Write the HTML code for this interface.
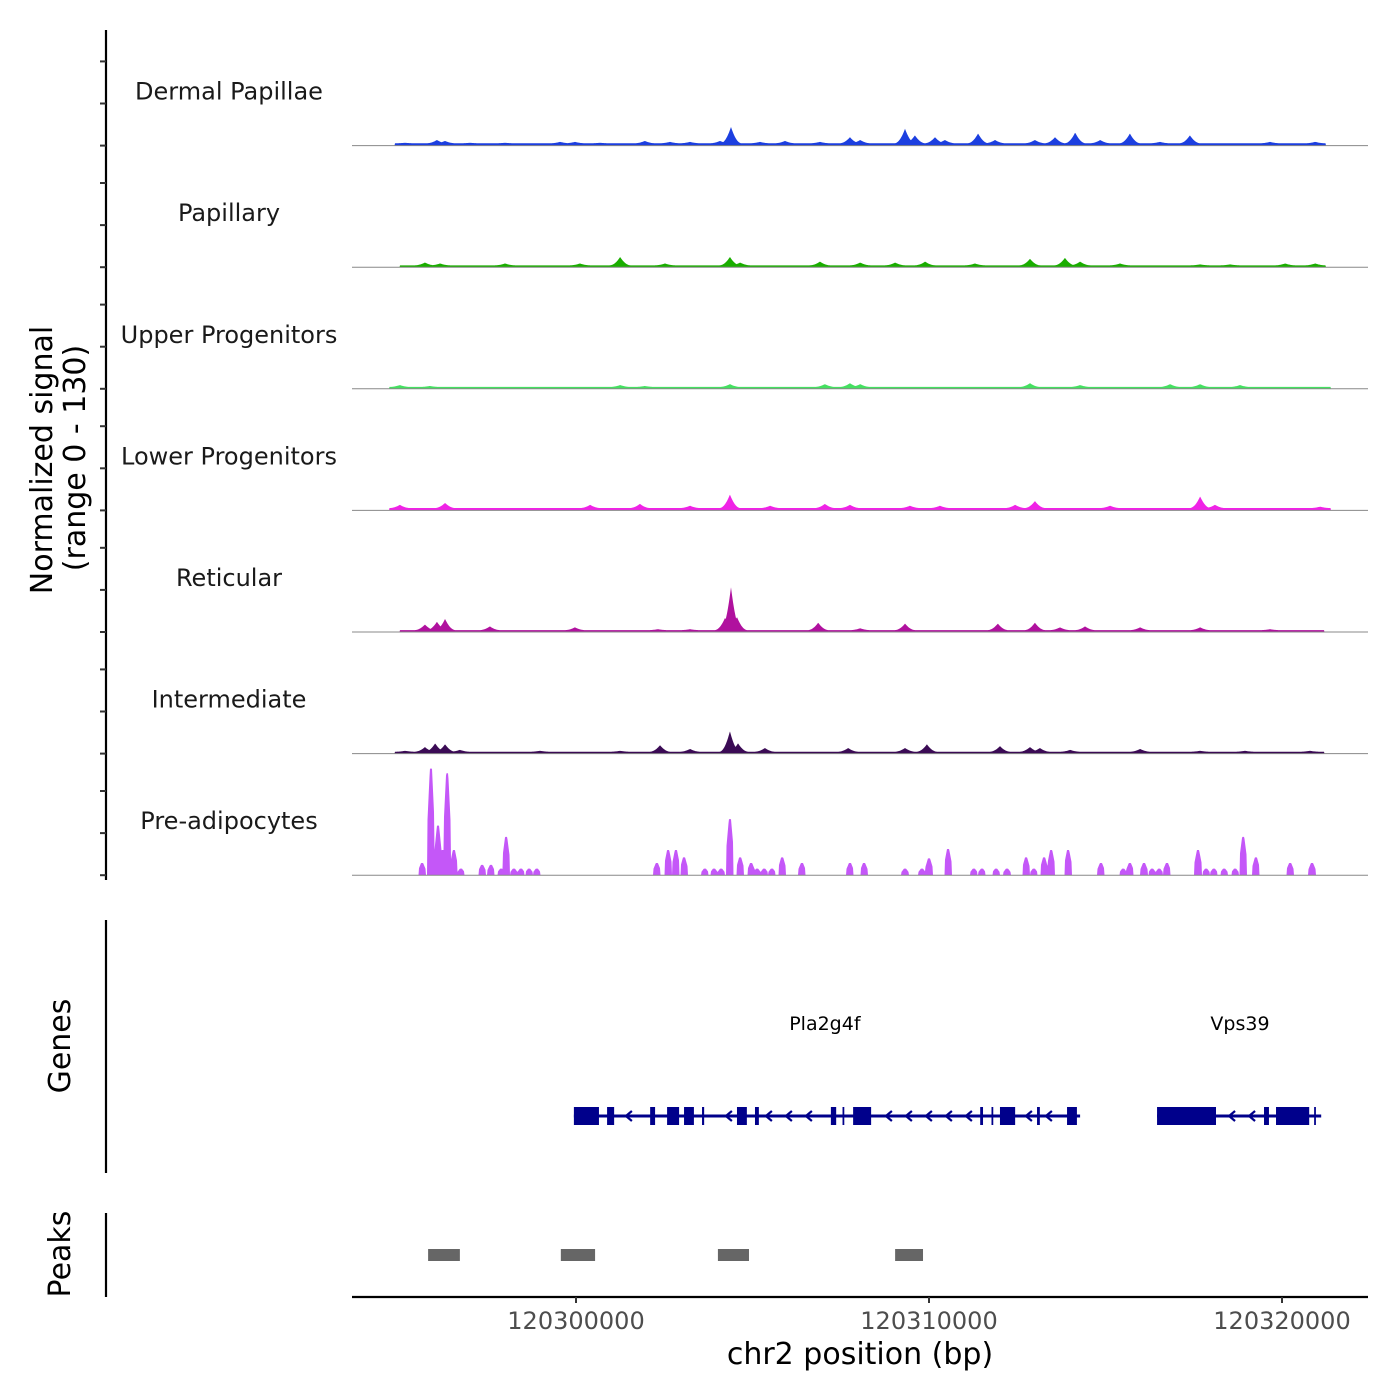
<!DOCTYPE html>
<html><head><meta charset="utf-8">
<style>
html,body{margin:0;padding:0;background:#fff;}
svg{display:block;font-family:"DejaVu Sans","Liberation Sans",sans-serif;}
</style></head>
<body>
<svg id="chart" width="1400" height="1400" viewBox="0 0 1400 1400"></svg>
<script>
// genomic positions are kb offsets after chr2:120,290,000
const trackNames = ["Dermal Papillae","Papillary","Upper Progenitors","Lower Progenitors","Reticular","Intermediate","Pre-adipocytes"];
const trackColors = ["#1c3fe0","#1aad00","#44e060","#f022e6","#b0119e","#3b0b55","#c457f8"];
const baseLevel = [2.5,2,2,2.5,2,2,0];
const dpPos = [5.16,6.06,6.29,7.00,7.99,9.55,9.97,10.68,11.95,12.66,13.23,14.08,14.39,15.21,15.92,16.91,17.76,18.05,19.32,19.60,20.17,20.45,21.39,21.87,23.00,23.57,24.14,24.85,25.69,26.54,27.39,29.66,30.94];
const dpVal = [3,6,5,3,3,4,4,3,5,4,4,5,20,4,5,4,9,6,18,11,9,6,13,6,6,9,14,6,13,4,11,4,4];
const paPos = [5.72,6.15,7.99,10.11,11.25,12.52,14.36,14.65,16.91,18.05,19.04,19.89,21.30,22.86,23.85,24.28,25.41,27.68,28.53,30.09,30.94];
const paVal = [5,4,4,4,11,4,11,5,6,5,5,6,4,9,10,6,4,3,3,4,4];
const upPos = [5.01,5.86,11.25,11.95,14.36,17.05,17.76,18.05,22.86,24.28,26.83,27.68,28.81,31.08];
const upVal = [4,3,4,3,5,5,6,5,6,4,5,5,4,2];
const loPos = [5.01,6.29,10.40,11.81,13.23,14.36,15.50,17.05,17.76,19.46,20.31,22.44,23.00,25.13,27.68,28.10,31.08];
const loVal = [6,8,6,7,5,17,5,7,6,5,5,6,10,5,15,6,4];
const rePos = [5.72,6.06,6.29,7.56,9.97,12.32,13.23,14.22,14.39,14.56,16.86,18.05,19.32,21.95,23.00,23.71,24.42,25.98,27.68,29.66];
const reVal = [8,11,14,6,5,3,3,15,48,16,10,4,9,9,10,5,6,5,5,3];
const inPos = [5.16,5.72,6.01,6.29,6.71,8.98,11.25,12.38,13.23,14.36,14.59,15.35,17.71,19.32,19.94,22.01,22.86,23.14,24.00,25.98,27.68,28.95,30.79];
const inVal = [3,7,11,10,4,3,3,9,5,24,11,6,6,6,10,8,7,6,4,5,3,3,3];
const prPos = [5.64,5.89,6.09,6.23,6.35,6.54,6.74,7.34,7.59,7.88,8.02,8.24,8.44,8.67,8.89,12.29,12.61,12.83,13.06,13.65,13.91,14.11,14.36,14.65,14.96,15.13,15.33,15.55,15.84,16.40,17.76,18.16,19.32,19.80,20.00,20.54,21.27,21.50,21.90,22.21,22.75,22.97,23.26,23.46,23.94,24.87,25.50,25.69,26.09,26.32,26.52,26.74,27.62,27.85,28.07,28.36,28.67,28.90,29.26,30.23,30.85];
const prVal = [13,114,53,27,109,27,7,11,11,7,41,7,7,7,7,13,27,27,19,7,7,7,60,19,13,7,7,7,19,13,13,13,7,7,18,28,7,7,7,7,19,7,19,27,27,13,7,13,13,7,7,13,27,7,7,7,7,41,19,13,13];
const trackPos = [dpPos,paPos,upPos,loPos,rePos,inPos,prPos];
const trackVal = [dpVal,paVal,upVal,loVal,reVal,inVal,prVal];
const signalRange = [0,130];
const noiseRange = [5.0,31.2];
const xTicks = [10,20,30];
const xTickLabels = ["120300000","120310000","120320000"];
const geneNames = ["Pla2g4f","Vps39"];
const geneStart = [9.94,26.46];
const geneEnd = [24.28,31.11];
const geneLabelPos = [17.05,28.81];
const exonStart = [9.94,10.88,12.10,12.58,13.06,13.57,14.56,15.07,17.22,17.55,17.85,21.45,21.77,22.01,23.06,23.91,26.46,29.49,29.83,30.91];
const exonEnd = [10.65,11.08,12.24,12.92,13.34,13.63,14.84,15.18,17.37,17.60,18.36,21.53,21.82,22.44,23.14,24.19,28.13,29.63,30.77,30.96];
const peakStart = [5.81,9.57,14.02,19.04];
const peakEnd = [6.71,10.54,14.90,19.83];

const NS="http://www.w3.org/2000/svg";
const svg=document.getElementById('chart');
function mk(tag,attrs,parent){const e=document.createElementNS(NS,tag);for(const k in attrs)e.setAttribute(k,attrs[k]);(parent||svg).appendChild(e);return e;}
const X0=352,X1=1368,KB0=3.654,PXPERKB=35.3;
function x(kb){return X0+(kb-KB0)*PXPERKB;}
function kbOf(px){return KB0+(px-X0)/PXPERKB;}
const panelH=121.6, top0=25;
function base(i){return top0+panelH*(i+1)-1;}
function y(v,i){return base(i)-(v-signalRange[0])/(signalRange[1]-signalRange[0])*panelH;}

// left axis
let g=mk('g',{});


mk('line',{x1:106,y1:30,x2:106,y2:880,stroke:'#000','stroke-width':2.2},g);
for(let i=0;i<7;i++){for(const v of [0,45,90]){const yy=y(v,i);mk('line',{x1:100,y1:yy,x2:106,y2:yy,stroke:'#333','stroke-width':2},g);}}
let t=mk('text',{x:0,y:0,'font-size':30,fill:'#000','text-anchor':'middle',transform:'translate(52,460) rotate(-90)'});

t.textContent='Normalized signal';
let t2=mk('text',{x:0,y:0,'font-size':30,fill:'#000','text-anchor':'middle',transform:'translate(85,458) rotate(-90)'});

t2.textContent='(range 0 - 130)';

// tracks
for(let i=0;i<7;i++){
  const tg=mk('g',{});
  
  
  const lab=mk('text',{x:229,y:base(i)-46,'font-size':24,fill:'#1a1a1a','text-anchor':'middle'},tg);
  
  
  lab.textContent=trackNames[i];
  const P=trackPos[i],V=trackVal[i];
  const w=(i===6)?0.1:0.3;
  let d='M'+X0+','+base(i);
  for(let px=X0;px<=X1;px+=0.5){
    const k=kbOf(px);let v=0;
    if(k>=noiseRange[0]&&k<=noiseRange[1])v=baseLevel[i];
    for(let j=0;j<P.length;j++){
      const dd=Math.abs(k-P[j]);
      if(i===6){ if(dd<w) v=Math.max(v,V[j]*(dd<w*0.3?1:((w-dd)/(w*0.7))*0.5+0.5)); }
      else { if(dd<w){const f=1-dd/w; v=Math.max(v,baseLevel[i]+(V[j]-baseLevel[i])*f*f);} }
    }
    d+=' L'+px+','+y(v,i).toFixed(2);
  }
  d+=' L'+X1+','+base(i)+' Z';
  const area=mk('path',{d:d,fill:trackColors[i],stroke:'none'},tg);
  
  
  mk('line',{x1:X0,y1:base(i),x2:X1,y2:base(i),stroke:'#888','stroke-width':1},tg);
}

// genes
const gg=mk('g',{});


mk('line',{x1:106,y1:920,x2:106,y2:1173,stroke:'#000','stroke-width':2.2},gg);
let gt=mk('text',{x:0,y:0,'font-size':30,fill:'#000','text-anchor':'middle',transform:'translate(70,1046) rotate(-90)'},gg);
gt.textContent='Genes';
const GY=1116;
for(let j=0;j<geneNames.length;j++){
  mk('line',{x1:x(geneStart[j]),y1:GY,x2:x(geneEnd[j]),y2:GY,stroke:'#00008b','stroke-width':3},gg);
  const gl=mk('text',{x:x(geneLabelPos[j]),y:1030,'font-size':19,fill:'#000','text-anchor':'middle'},gg);
  gl.textContent=geneNames[j];
  for(let px=x(geneStart[j])+14;px<x(geneEnd[j])-6;px+=20){
    const k=kbOf(px);let inEx=false;
    for(let e=0;e<exonStart.length;e++){if(k>exonStart[e]-0.2&&k<exonEnd[e]+0.2)inEx=true;}
    if(!inEx)mk('path',{d:`M${px+4},${GY-5} L${px-2},${GY} L${px+4},${GY+5}`,fill:'none',stroke:'#00008b','stroke-width':2.2},gg);
  }
}
for(let e=0;e<exonStart.length;e++){
  const r=mk('rect',{x:x(exonStart[e]),y:GY-9,width:Math.max(1.5,x(exonEnd[e])-x(exonStart[e])),height:18,fill:'#00008b'},gg);
  
}

// peaks
const pg=mk('g',{});


mk('line',{x1:106,y1:1213,x2:106,y2:1297,stroke:'#000','stroke-width':2.2},pg);
let pt=mk('text',{x:0,y:0,'font-size':30,fill:'#000','text-anchor':'middle',transform:'translate(70,1254) rotate(-90)'},pg);
pt.textContent='Peaks';
for(let j=0;j<peakStart.length;j++){
  const r=mk('rect',{x:x(peakStart[j]),y:1249,width:x(peakEnd[j])-x(peakStart[j]),height:12,fill:'#666'},pg);
  
}

// x axis
const xg=mk('g',{});


mk('line',{x1:X0,y1:1297,x2:X1,y2:1297,stroke:'#000','stroke-width':2.2},xg);
for(let j=0;j<xTicks.length;j++){
  const xx=x(xTicks[j]);
  mk('line',{x1:xx,y1:1297,x2:xx,y2:1303,stroke:'#333','stroke-width':2},xg);
  const tl=mk('text',{x:xx,y:1329,'font-size':24,fill:'#4d4d4d','text-anchor':'middle'},xg);
  tl.textContent=xTickLabels[j];
}
const xt=mk('text',{x:860,y:1364,'font-size':30,fill:'#000','text-anchor':'middle'},xg);
xt.textContent='chr2 position (bp)';
</script>
</body></html>
